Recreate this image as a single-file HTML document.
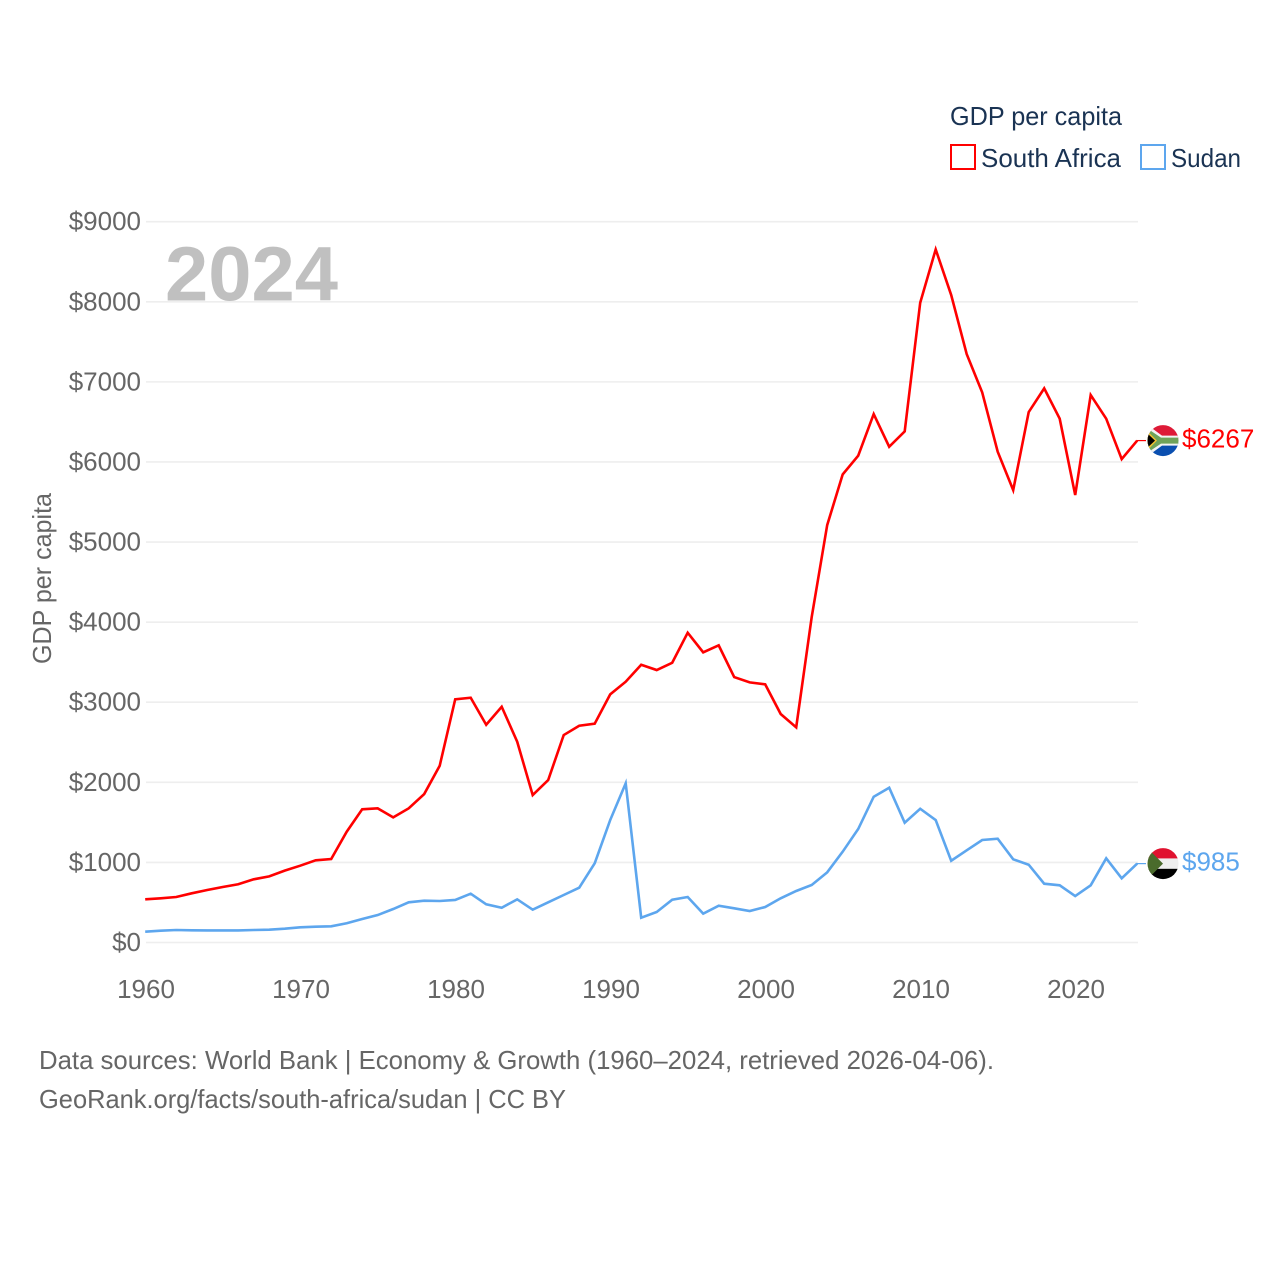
<!DOCTYPE html>
<html lang="en">
<head>
<meta charset="utf-8">
<title>GDP per capita: South Africa and Sudan</title>
<style>
html,body{margin:0;padding:0;background:#fff;}
svg{display:block;}
text{font-family:"Liberation Sans",sans-serif;}
</style>
</head>
<body>
<svg id="chart" width="1280" height="1280" viewBox="0 0 1280 1280" xmlns="http://www.w3.org/2000/svg">
  <defs>
    <clipPath id="flag-clip"><circle cx="0" cy="0" r="15.5"></circle></clipPath>
  </defs>
  <rect x="0" y="0" width="1280" height="1280" fill="#fff"></rect>

  <g id="grid"></g>
  <g id="y-ticks"></g>
  <g id="x-ticks"></g>

  <text transform="translate(51 578.5) rotate(-90)" text-anchor="middle" font-size="26" fill="#666" textLength="171" lengthAdjust="spacingAndGlyphs">GDP per capita</text>

  <text x="165" y="300.5" font-size="77" font-weight="700" fill="#c0c0c0" textLength="173" lengthAdjust="spacingAndGlyphs">2024</text>

  <g id="series"></g>
  <g id="end-markers"></g>

  <g>
    <text x="950" y="125" font-size="26" fill="#1a3353" textLength="172" lengthAdjust="spacingAndGlyphs">GDP per capita</text>
    <g>
      <rect x="951" y="145" width="24" height="24" fill="none" stroke="#ff0000" stroke-width="2"></rect>
      <text x="981" y="167" font-size="26" fill="#1a3353" textLength="140" lengthAdjust="spacingAndGlyphs">South Africa</text>
    </g>
    <g>
      <rect x="1141" y="145" width="24" height="24" fill="none" stroke="#5da6ee" stroke-width="2"></rect>
      <text x="1171" y="167" font-size="26" fill="#1a3353" textLength="70" lengthAdjust="spacingAndGlyphs">Sudan</text>
    </g>
  </g>

  <g>
    <text x="39" y="1069" font-size="26" fill="#666" textLength="955" lengthAdjust="spacingAndGlyphs">Data sources: World Bank | Economy &amp; Growth (1960–2024, retrieved 2026-04-06).</text>
    <text x="39" y="1108" font-size="26" fill="#666" textLength="527" lengthAdjust="spacingAndGlyphs">GeoRank.org/facts/south-africa/sudan | CC BY</text>
  </g>
</svg>

<script>
const years = [1960,1961,1962,1963,1964,1965,1966,1967,1968,1969,1970,1971,1972,1973,1974,1975,1976,1977,1978,1979,1980,1981,1982,1983,1984,1985,1986,1987,1988,1989,1990,1991,1992,1993,1994,1995,1996,1997,1998,1999,2000,2001,2002,2003,2004,2005,2006,2007,2008,2009,2010,2011,2012,2013,2014,2015,2016,2017,2018,2019,2020,2021,2022,2023,2024];
const southAfricaValues = [539,552,568,614,655,693,727,789,826,897,959,1026,1042,1383,1663,1675,1563,1675,1854,2207,3036,3056,2719,2944,2507,1841,2029,2590,2707,2732,3098,3256,3468,3402,3493,3868,3623,3710,3314,3248,3223,2853,2687,4064,5212,5845,6078,6598,6190,6381,7988,8654,8084,7347,6868,6128,5649,6623,6919,6540,5587,6835,6540,6036,6267];
const sudanValues = [135,147,156,152,151,151,151,156,160,172,190,197,202,240,293,343,418,502,522,518,531,609,477,434,539,410,502,593,684,989,1529,1987,310,381,534,568,360,459,427,393,443,552,643,718,876,1134,1417,1820,1933,1496,1670,1529,1021,1151,1280,1296,1039,971,734,714,580,714,1051,801,985];
const yTickValues = [0,1000,2000,3000,4000,5000,6000,7000,8000,9000];
const yTickLabels = ["$0","$1000","$2000","$3000","$4000","$5000","$6000","$7000","$8000","$9000"];
const xTickValues = [1960,1970,1980,1990,2000,2010,2020];
const xTickLabels = ["1960","1970","1980","1990","2000","2010","2020"];

const SVG_NS = "http://www.w3.org/2000/svg";
const RED = "#ff0000";
const BLUE = "#5da6ee";

function xScale(year) { return 146 + (year - 1960) * (1138 - 146) / (2024 - 1960); }
function yScale(value) { return 942.5 - value * (942.5 - 221.7) / 9000; }

function make(tag, attrs, parent) {
  const el = document.createElementNS(SVG_NS, tag);
  Object.keys(attrs).forEach(function (k) { el.setAttribute(k, attrs[k]); });
  parent.appendChild(el);
  return el;
}

const gridGroup = document.getElementById("grid");
const yTickGroup = document.getElementById("y-ticks");
yTickValues.forEach(function (v, i) {
  const y = yScale(v);
  const line = make("line", {x1: 146, x2: 1138, y1: y, y2: y, stroke: "#eeeeee", "stroke-width": 1.6}, gridGroup);
  
  
  const label = make("text", {x: 141, y: y + 8.5, "text-anchor": "end", "font-size": 26, fill: "#666"}, yTickGroup);
  
  
  label.textContent = yTickLabels[i];
});

const xTickGroup = document.getElementById("x-ticks");
xTickValues.forEach(function (v, i) {
  const label = make("text", {x: xScale(v), y: 998, "text-anchor": "middle", "font-size": 26, fill: "#666"}, xTickGroup);
  
  
  label.textContent = xTickLabels[i];
});

function pathFor(values) {
  return values.map(function (v, i) {
    return (i ? "L" : "M") + (xScale(years[i]) - 0.8).toFixed(2) + " " + yScale(v).toFixed(2);
  }).join(" ");
}

const seriesGroup = document.getElementById("series");
const sudanLine = make("path", {d: pathFor(sudanValues), fill: "none", stroke: BLUE, "stroke-width": 2.6, "stroke-linejoin": "miter"}, seriesGroup);


const southAfricaLine = make("path", {d: pathFor(southAfricaValues), fill: "none", stroke: RED, "stroke-width": 2.6, "stroke-linejoin": "miter"}, seriesGroup);



function drawSouthAfricaFlag(g) {
  const c = make("g", {"clip-path": "url(#flag-clip)"}, g);
  make("rect", {x: -16, y: -16, width: 32, height: 16, fill: "#de1a37"}, c);
  make("rect", {x: -16, y: 0, width: 32, height: 16, fill: "#0a4fb0"}, c);
  make("path", {d: "M-16 -16 L-1 -5 L16 -5 L16 5 L-1 5 L-16 16 Z", fill: "#f4f4f4"}, c);
  make("path", {d: "M-17 -13 L-2 -3 L16 -3 L16 3 L-2 3 L-17 13 Z", fill: "#6fa35a"}, c);
  make("path", {d: "M-16 -10 L-6 0 L-16 10 Z", fill: "#f2c230"}, c);
  make("path", {d: "M-16 -7.5 L-8 0 L-16 7.5 Z", fill: "#000"}, c);
}

function drawSudanFlag(g) {
  const c = make("g", {"clip-path": "url(#flag-clip)"}, g);
  make("rect", {x: -16, y: -16, width: 32, height: 11, fill: "#e0122f"}, c);
  make("rect", {x: -16, y: -5.2, width: 32, height: 10.4, fill: "#eeeeee"}, c);
  make("rect", {x: -16, y: 5.2, width: 32, height: 11, fill: "#000"}, c);
  make("path", {d: "M-16 -16 L0 0 L-16 16 Z", fill: "#4a6b2c"}, c);
}

const markerGroup = document.getElementById("end-markers");

const saLast = southAfricaValues[southAfricaValues.length - 1];
const saY = yScale(saLast);
const saConnector = make("line", {x1: 1137, x2: 1146, y1: saY, y2: saY, stroke: RED, "stroke-width": 1.2}, markerGroup);


const saFlag = make("g", {transform: "translate(1163 " + saY + ")"}, markerGroup);


drawSouthAfricaFlag(saFlag);
const saLabel = make("text", {x: 1182, y: saY + 6.7, "font-size": 26, fill: RED}, markerGroup);


saLabel.textContent = "$" + saLast;

const sdLast = sudanValues[sudanValues.length - 1];
const sdY = yScale(sdLast);
const sdConnector = make("line", {x1: 1137, x2: 1146, y1: sdY, y2: sdY, stroke: BLUE, "stroke-width": 1.2}, markerGroup);


const sdFlag = make("g", {transform: "translate(1163 " + sdY + ")"}, markerGroup);


drawSudanFlag(sdFlag);
const sdLabel = make("text", {x: 1182, y: sdY + 6.7, "font-size": 26, fill: BLUE}, markerGroup);


sdLabel.textContent = "$" + sdLast;
</script>
</body>
</html>
